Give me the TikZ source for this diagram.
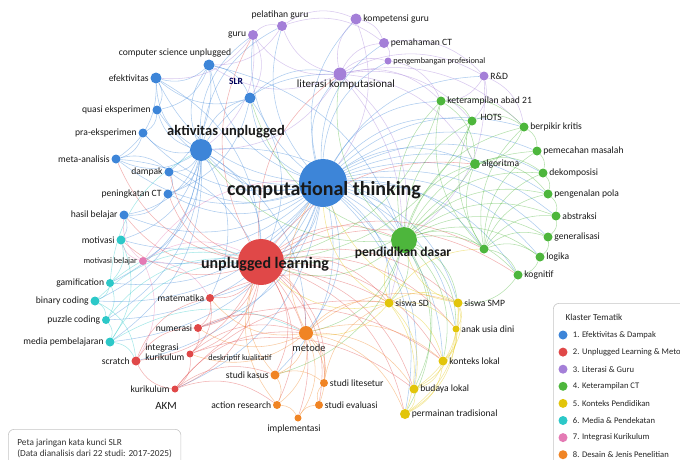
\documentclass[tikz,border=0pt]{standalone}
\usepackage{fontspec}
\setmainfont{Carlito}
\usetikzlibrary{backgrounds}

\definecolor{cBlue}{HTML}{3D85D8}
\definecolor{cRed}{HTML}{E04848}
\definecolor{cPurple}{HTML}{A47FD8}
\definecolor{cGreen}{HTML}{4DB63C}
\definecolor{cYellow}{HTML}{E2C50A}
\definecolor{cCyan}{HTML}{2CC8C8}
\definecolor{cPink}{HTML}{E47AB4}
\definecolor{cOrange}{HTML}{F08424}

\tikzset{
    kw/.style={circle, inner sep=0pt, minimum size=9pt},
    lbl/.style={font=\fontsize{9.6}{10}\selectfont, text=black!90, inner sep=1.5pt},
    lbls/.style={font=\fontsize{8.3}{9}\selectfont, text=black!90, inner sep=1.5pt},
    hub/.style={font=\fontsize{#1}{#1}\selectfont\bfseries, text=black!90, inner sep=0pt},
    link/.style={line width=0.55pt, opacity=0.42, bend left=28},
    legbox/.style={draw=gray!45, rounded corners=6pt, fill=white, line width=0.6pt},
}

\begin{document}
\begin{tikzpicture}[x=1pt, y=-1pt]
    \useasboundingbox (0,0) rectangle (680,459);

    % cluster 1: efektivitas & dampak
    \node[kw, fill=cBlue, minimum size=48pt] (ct) at (323,183) {};
    \node[kw, fill=cBlue, minimum size=22pt] (au) at (201,150) {};
    \node[kw, fill=cBlue, minimum size=11pt] (csu) at (209,65) {};
    \node[kw, fill=cBlue, minimum size=11pt, label={[lbl]left:efektivitas}] (efek) at (156,78) {};
    \node[kw, fill=cBlue, minimum size=11pt] (slr) at (250,98) {};
    \node[kw, fill=cBlue, label={[lbl]left:quasi eksperimen}] (quasi) at (157,110) {};
    \node[kw, fill=cBlue, label={[lbl]left:pra-eksperimen}] (pra) at (143,133) {};
    \node[kw, fill=cBlue, label={[lbl]left:meta-analisis}] (meta) at (116,159) {};
    \node[kw, fill=cBlue, label={[lbl]left:dampak}] (dampak) at (169,172) {};
    \node[kw, fill=cBlue, label={[lbl]left:peningkatan CT}] (pening) at (168,194) {};
    \node[kw, fill=cBlue, label={[lbl]left:hasil belajar}] (hasil) at (124,215) {};

    % cluster 6 and 7
    \node[kw, fill=cCyan, label={[lbl]left:motivasi}] (motiv) at (121,240) {};
    \node[kw, fill=cPink, minimum size=8pt, label={[lbls]left:motivasi belajar}] (motbel) at (143,261) {};
    \node[kw, fill=cCyan, minimum size=8pt, label={[lbl]left:gamification}] (gami) at (110,283) {};
    \node[kw, fill=cCyan, label={[lbl]left:binary coding}] (binary) at (95,301) {};
    \node[kw, fill=cCyan, minimum size=8pt, label={[lbl]left:puzzle coding}] (puzzle) at (106,320) {};
    \node[kw, fill=cCyan, label={[lbl]left:media pembelajaran}] (media) at (110,342) {};

    % cluster 2: unplugged learning
    \node[kw, fill=cRed, minimum size=46pt] (ul) at (261,262) {};
    \node[kw, fill=cRed, minimum size=8pt, label={[lbl]left:matematika}] (mat) at (210,298) {};
    \node[kw, fill=cRed, minimum size=8pt, label={[lbl]left:numerasi}] (num) at (198,328) {};
    \node[kw, fill=cRed, minimum size=7pt] (integ) at (190,354) {};
    \node[kw, fill=cRed, label={[lbl]left:scratch}] (scratch) at (136,361) {};
    \node[kw, fill=cRed, minimum size=7pt, label={[lbl]left:kurikulum}] (kur) at (175,389) {};

    % cluster 8: desain & jenis penelitian
    \node[kw, fill=cOrange, minimum size=14pt] (metode) at (306,333) {};
    \node[kw, fill=cOrange, label={[lbl]left:studi kasus}] (kasus) at (275,375) {};
    \node[kw, fill=cOrange, minimum size=8pt, label={[lbl]left:action research}] (action) at (277,405) {};
    \node[kw, fill=cOrange, minimum size=7pt] (impl) at (298,418) {};
    \node[kw, fill=cOrange, minimum size=8pt, label={[lbl]right:studi evaluasi}] (eval) at (319,405) {};
    \node[kw, fill=cOrange, minimum size=8pt, label={[lbl]right:studi litesetur}] (lit) at (324,383) {};

    % cluster 5: konteks pendidikan
    \node[kw, fill=cYellow, label={[lbl]right:siswa SD}] (sd) at (389,303) {};
    \node[kw, fill=cYellow, label={[lbl]right:siswa SMP}] (smp) at (458,303) {};
    \node[kw, fill=cYellow, minimum size=7pt, label={[lbl]right:anak usia dini}] (anak) at (456,329) {};
    \node[kw, fill=cYellow, label={[lbl]right:konteks lokal}] (konteks) at (443,361) {};
    \node[kw, fill=cYellow, label={[lbl]right:budaya lokal}] (budaya) at (414,389) {};
    \node[kw, fill=cYellow, minimum size=10pt, label={[lbl]right:permainan tradisional}] (permainan) at (405,414) {};

    % cluster 4: keterampilan CT
    \node[kw, fill=cGreen, minimum size=26pt] (pd) at (404,240) {};
    \node[kw, fill=cGreen] (g0) at (484,249) {};
    \node[kw, fill=cGreen, label={[lbl]right:keterampilan abad 21}] (ket) at (441,101) {};
    \node[kw, fill=cGreen] (hots) at (472,121) {};
    \node[kw, fill=cGreen, label={[lbl]right:berpikir kritis}] (kritis) at (524,127) {};
    \node[kw, fill=cGreen, label={[lbl]right:pemecahan masalah}] (pemec) at (537,151) {};
    \node[kw, fill=cGreen, minimum size=10pt, label={[lbl]right:algoritma}] (alg) at (475,164) {};
    \node[kw, fill=cGreen, label={[lbl]right:dekomposisi}] (dekom) at (543,173) {};
    \node[kw, fill=cGreen, label={[lbl]right:pengenalan pola}] (pola) at (548,194) {};
    \node[kw, fill=cGreen, label={[lbl]right:abstraksi}] (abs) at (556,216) {};
    \node[kw, fill=cGreen, label={[lbl]right:generalisasi}] (gen) at (548,237) {};
    \node[kw, fill=cGreen, label={[lbl]right:logika}] (logika) at (540,257) {};
    \node[kw, fill=cGreen, label={[lbl]right:kognitif}] (kog) at (518,275) {};

    % cluster 3: literasi & guru
    \node[kw, fill=cPurple, minimum size=13pt] (lk) at (340,74) {};
    \node[kw, fill=cPurple, minimum size=10pt, label={[lbl]left:guru}] (guru) at (253,35) {};
    \node[kw, fill=cPurple, minimum size=10pt] (pelat) at (282,26) {};
    \node[kw, fill=cPurple, minimum size=11pt, label={[lbl]right:kompetensi guru}] (kompet) at (356,19) {};
    \node[kw, fill=cPurple, minimum size=10pt, label={[lbl]right:pemahaman CT}] (pemah) at (384,43) {};
    \node[kw, fill=cPurple, minimum size=7pt, label={[lbls]right:pengembangan profesional}] (pengem) at (388,61) {};
    \node[kw, fill=cPurple, label={[lbl]right:R\&D}] (rd) at (484,76) {};

    % free labels
    \node[hub=20] (ct-t) at (324,190) {computational thinking};
    \node[hub=14.5] (au-t) at (226,132) {aktivitas unplugged};
    \node[hub=16] (ul-t) at (265,264) {unplugged learning};
    \node[hub=13.5] (pd-t) at (403,253) {pendidikan dasar};
    \node[font=\fontsize{11}{11}\selectfont, text=black!90] (lk-t) at (346,85) {literasi komputasional};
    \node[font=\fontsize{10.5}{11}\selectfont, text=black!85] (metode-t) at (309,348) {metode};
    \node[lbl] (csu-t) at (175,53) {computer science unplugged};
    \node[lbl, font=\fontsize{9.5}{10}\selectfont\bfseries, text=blue!35!black] (slr-t) at (236,81) {SLR};
    \node[lbl] (pelat-t) at (280,15) {pelatihan guru};
    \node[lbl, anchor=west] (hots-t) at (479,117) {HOTS};
    \node[lbl, align=left, anchor=east] (integ-t) at (186,352) {integrasi\\kurikulum};
    \node[font=\fontsize{11}{11}\selectfont, text=black!90] (akm-t) at (166,406) {AKM};
    \node[lbls] (desk-t) at (240,358) {deskriptif kualitatif};
    \node[lbl] (impl-t) at (294,429) {implementasi};

    \begin{scope}[on background layer]
        \foreach \a/\b in {ct/au, ct/csu, ct/slr, ct/efek, ct/quasi, ct/pra, ct/meta, ct/dampak, ct/pening,
            ct/hasil, ct/lk, ct/guru, ct/pelat, ct/kompet, ct/pemah, ct/rd, ct/ket, ct/hots, ct/kritis,
            ct/alg, ct/pemec, ct/dekom, ct/pola, ct/abs, ct/pd, ct/ul, ct/metode, ct/sd, ct/smp, ct/motiv,
            ct/gami, ct/g0, ct/konteks, ct/mat, ct/num, ct/budaya, ct/permainan, ct/anak, ct/kasus, ct/kur,
            ct/scratch, ct/media, ct/binary, ct/puzzle, ct/motbel, ct/gen, ct/logika, ct/kog, ct/pengem,
            au/csu, au/efek, au/quasi, au/pra, au/meta, au/dampak, au/pening, au/hasil, au/slr, au/motiv,
            au/gami, au/binary, au/lk, au/ul, au/pd, au/guru, au/motbel, au/puzzle, au/media, au/mat,
            au/metode, au/pelat,
            csu/efek, csu/slr, csu/quasi, slr/lk, slr/efek, efek/quasi, quasi/pra, pra/meta, meta/dampak,
            dampak/pening, pening/hasil, hasil/motiv, slr/pening, csu/dampak, efek/meta, slr/ul, csu/pd,
            efek/ul, meta/ul}
            \draw[link, cBlue] (\a) to (\b);
        \foreach \a/\b in {motiv/gami, gami/binary, binary/puzzle, puzzle/media, media/scratch, gami/puzzle,
            motiv/media, binary/scratch, gami/ul, media/ul, puzzle/ul, binary/ul, media/metode, gami/au}
            \draw[link, cCyan] (\a) to (\b);
        \foreach \a/\b in {motbel/ul, motbel/motiv, motbel/hasil, motbel/scratch, motbel/mat, motbel/ct}
            \draw[link, cPink] (\a) to (\b);
        \foreach \a/\b in {ul/mat, ul/num, ul/integ, ul/scratch, ul/kur, ul/metode, ul/kasus, ul/action,
            ul/impl, ul/eval, ul/lit, ul/sd, ul/konteks, ul/budaya, ul/permainan, ul/pd, ul/hasil, ul/motiv,
            ul/smp, ul/dampak, ul/pening, ul/lk, ul/guru, ul/alg, ul/g0, ul/anak, ul/kog, ul/meta,
            mat/num, num/integ, integ/kur, kur/scratch, scratch/mat,
            kur/metode, integ/metode, num/metode, kur/sd, scratch/num, mat/integ, kur/kasus, mat/sd,
            num/konteks, integ/budaya, kur/action}
            \draw[link, cRed] (\a) to (\b);
        \foreach \a/\b in {lk/guru, lk/pelat, lk/kompet, lk/pemah, lk/pengem, lk/rd, lk/ket, lk/hots,
            lk/csu, lk/alg, lk/pd, lk/au, lk/kritis, lk/sd, guru/pelat, pelat/kompet, kompet/pemah,
            pemah/pengem, guru/slr, pelat/csu, pemah/rd, rd/ket, rd/kritis, guru/au, pelat/pemah,
            kompet/ct, pengem/ket, rd/pd, rd/hots, guru/efek}
            \draw[link, cPurple] (\a) to (\b);
        \foreach \a/\b in {pd/ket, pd/hots, pd/kritis, pd/alg, pd/pemec, pd/dekom, pd/pola, pd/abs, pd/gen,
            pd/logika, pd/kog, pd/g0, pd/sd, pd/smp, pd/anak, pd/ul, pd/lk, pd/metode, pd/konteks,
            pd/budaya, pd/permainan, pd/kasus, pd/au, pd/slr,
            g0/hots, g0/alg, g0/kritis, g0/dekom,
            g0/pola, g0/abs, g0/gen, g0/logika, g0/kog, g0/ket, g0/pemec, ket/hots, hots/kritis,
            kritis/pemec, pemec/dekom, dekom/pola, pola/abs, abs/gen, gen/logika, logika/kog, alg/dekom,
            alg/hots, ket/alg, kritis/alg, alg/pola, ket/kritis, alg/ul, hots/ul, kog/smp, ket/ul}
            \draw[link, cGreen] (\a) to (\b);
        \foreach \a/\b in {sd/smp, sd/anak, sd/konteks, sd/budaya, sd/permainan, smp/anak, smp/konteks,
            smp/budaya, smp/permainan, anak/konteks, konteks/budaya, budaya/permainan, konteks/permainan,
            sd/pd, smp/pd, sd/metode, sd/ul, anak/budaya, anak/permainan, sd/ct, smp/ct, sd/g0}
            \draw[link, cYellow] (\a) to (\b);
        \foreach \a/\b in {metode/kasus, metode/action, metode/impl, metode/eval, metode/lit, metode/sd,
            metode/smp, metode/konteks, metode/budaya, metode/num, metode/integ, kasus/action,
            action/impl, impl/eval, eval/lit, kasus/lit, metode/ct, metode/mat, kasus/ul, lit/sd,
            action/ul, metode/permainan}
            \draw[link, cOrange] (\a) to (\b);
    \end{scope}

    % note box
    \node[legbox, anchor=north west, align=left, inner xsep=9pt, inner ysep=5pt,
        font=\fontsize{9.3}{11}\selectfont, text=black!80, minimum height=38pt] (note) at (8,429)
        {Peta jaringan kata kunci SLR\\(Data dianalisis dari 22 studi: 2017-2025)};

    % legend
    \node[legbox, anchor=north west, minimum width=150pt, minimum height=170pt] (legend) at (553,303) {};
    \node[anchor=west, font=\fontsize{9.2}{10}\selectfont, text=black!85] (leg-t) at ([xshift=9pt, yshift=-14pt]legend.north west) {Klaster Tematik};
    \foreach \c/\t [count=\i] in {cBlue/1. Efektivitas \& Dampak, cRed/2. Unplugged Learning \& Metode,
        cPurple/3. Literasi \& Guru, cGreen/4. Keterampilan CT, cYellow/5. Konteks Pendidikan,
        cCyan/6. Media \& Pendekatan, cPink/7. Integrasi Kurikulum, cOrange/8. Desain \& Jenis Penelitian} {
        \node[kw, fill=\c, minimum size=9pt] (leg-\i) at ([xshift=10pt, yshift={-32pt-17.1pt*(\i-1)}]legend.north west) {};
        \node[anchor=west, font=\fontsize{8.6}{9}\selectfont, text=black!85, inner sep=0pt] (leg-\i-t) at ([xshift=5pt]leg-\i.east) {\t};
    }
\end{tikzpicture}
\end{document}
